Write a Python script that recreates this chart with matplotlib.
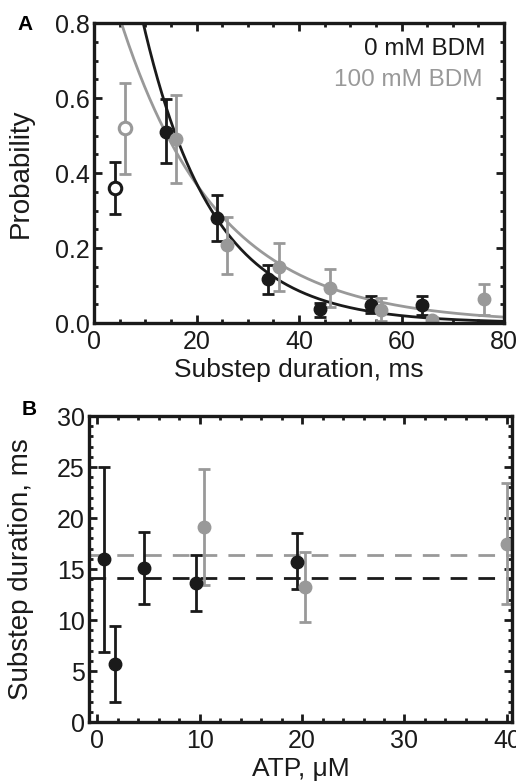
import numpy as np
import matplotlib
matplotlib.use("Agg")
import matplotlib.pyplot as plt
from matplotlib.ticker import MultipleLocator, FormatStrFormatter

plt.rcParams['font.family'] = ['Liberation Sans', 'DejaVu Sans']

BLACK = "#1a1a1a"
GRAY = "#999999"

# panel A: substep duration histograms (0 mM BDM black, 100 mM BDM gray)
a_black_x = [4, 14, 24, 34, 44, 54, 64]
a_black_y = [0.36, 0.51, 0.28, 0.117, 0.037, 0.048, 0.048]
a_black_lo = [0.29, 0.427, 0.219, 0.077, 0.016, 0.027, 0.021]
a_black_hi = [0.43, 0.597, 0.341, 0.155, 0.053, 0.072, 0.072]

a_gray_x = [6, 16, 26, 36, 46, 56, 66, 76]
a_gray_y = [0.52, 0.49, 0.208, 0.149, 0.093, 0.035, 0.008, 0.064]
a_gray_lo = [0.397, 0.373, 0.131, 0.085, 0.043, 0.005, 0.0, 0.021]
a_gray_hi = [0.64, 0.608, 0.283, 0.213, 0.144, 0.067, 0.016, 0.104]

# exponential fits (amplitude, time constant in ms)
fit_black = (1.62, 13.6)
fit_gray = (1.06, 19.0)

# panel B: substep duration vs ATP
b_black_x = [0.7, 1.7, 4.6, 9.6, 19.5]
b_black_y = [16.0, 5.7, 15.1, 13.6, 15.7]
b_black_lo = [6.9, 2.0, 11.6, 10.9, 13.0]
b_black_hi = [25.0, 9.4, 18.6, 16.4, 18.5]

b_gray_x = [10.4, 20.3, 40.0]
b_gray_y = [19.1, 13.2, 17.5]
b_gray_lo = [13.4, 9.8, 11.6]
b_gray_hi = [24.8, 16.7, 23.4]

mean_black = 14.1
mean_gray = 16.4


def yerr(y, lo, hi):
    y = np.array(y)
    return [y - np.array(lo), np.array(hi) - y]


def style_axes(ax):
    for s in ax.spines.values():
        s.set_linewidth(2.4)
        s.set_color(BLACK)
    ax.tick_params(which="both", direction="in", top=True, right=True,
                   width=2.0, colors=BLACK, labelsize=18)
    ax.tick_params(axis="x", pad=5)
    ax.tick_params(axis="y", pad=3)
    ax.tick_params(which="major", length=6)
    ax.tick_params(which="minor", length=3)


fig = plt.figure(figsize=(5.16, 7.81), dpi=100)

# ---- panel A
ax = fig.add_axes([0.1822, 0.5864, 0.7946, 0.3841])
xs = np.linspace(0, 80, 400)
ax.plot(xs, fit_gray[0] * np.exp(-xs / fit_gray[1]), color=GRAY, lw=2)
ax.plot(xs, fit_black[0] * np.exp(-xs / fit_black[1]), color=BLACK, lw=2)

ekw = dict(fmt="none", elinewidth=2, capsize=4.5, capthick=2)
ax.errorbar(a_black_x, a_black_y, yerr=yerr(a_black_y, a_black_lo, a_black_hi), ecolor=BLACK, **ekw)
ax.errorbar(a_gray_x, a_gray_y, yerr=yerr(a_gray_y, a_gray_lo, a_gray_hi), ecolor=GRAY, **ekw)
# first bins drawn as open circles
ax.plot(a_black_x[:1], a_black_y[:1], "o", ms=9, mfc="white", mec=BLACK, mew=2.2)
ax.plot(a_gray_x[:1], a_gray_y[:1], "o", ms=9, mfc="white", mec=GRAY, mew=2.2)
ax.plot(a_black_x[1:], a_black_y[1:], "o", ms=9, color=BLACK)
ax.plot(a_gray_x[1:], a_gray_y[1:], "o", ms=9, color=GRAY)

ax.set_xlim(0, 80)
ax.set_ylim(0, 0.8)
ax.xaxis.set_major_locator(MultipleLocator(20))
ax.xaxis.set_minor_locator(MultipleLocator(5))
ax.yaxis.set_major_locator(MultipleLocator(0.2))
ax.yaxis.set_minor_locator(MultipleLocator(0.05))
ax.yaxis.set_major_formatter(FormatStrFormatter("%.1f"))
style_axes(ax)
ax.set_xlabel("Substep duration, ms", fontsize=19, color=BLACK)
ax.set_ylabel("Probability", fontsize=20, color=BLACK)
ax.xaxis.set_label_coords(0.5, -0.115)
ax.yaxis.set_label_coords(-0.147, 0.5)
ax.text(0.955, 0.915, "0 mM BDM", transform=ax.transAxes, ha="right", va="center",
        fontsize=17.5, color=BLACK)
ax.text(0.948, 0.81, "100 mM BDM", transform=ax.transAxes, ha="right", va="center",
        fontsize=17.5, color=GRAY)
fig.text(17 / 516, 1 - 25 / 781, "A", fontsize=15, fontweight="bold", ha="left", va="center")

# ---- panel B
bx = fig.add_axes([0.1725, 0.0755, 0.8198, 0.3918])
bx.axhline(mean_gray, color=GRAY, lw=2, dashes=(6, 4))
bx.axhline(mean_black, color=BLACK, lw=2, dashes=(6, 4))
ekw2 = dict(fmt="o", ms=9, elinewidth=2, capsize=4.5, capthick=2)
bx.errorbar(b_black_x, b_black_y, yerr=yerr(b_black_y, b_black_lo, b_black_hi),
            color=BLACK, ecolor=BLACK, **ekw2)
bx.errorbar(b_gray_x, b_gray_y, yerr=yerr(b_gray_y, b_gray_lo, b_gray_hi),
            color=GRAY, ecolor=GRAY, **ekw2)
bx.set_xlim(-0.8, 40.5)
bx.set_ylim(0, 30)
bx.xaxis.set_major_locator(MultipleLocator(10))
bx.xaxis.set_minor_locator(MultipleLocator(2))
bx.yaxis.set_major_locator(MultipleLocator(5))
bx.yaxis.set_minor_locator(MultipleLocator(1))
style_axes(bx)
bx.set_xlabel("ATP, \u03bcM", fontsize=19, color=BLACK)
bx.set_ylabel("Substep duration, ms", fontsize=20, color=BLACK)
bx.xaxis.set_label_coords(0.5, -0.115)
bx.yaxis.set_label_coords(-0.13, 0.5)
fig.text(22 / 516, 1 - 410 / 781, "B", fontsize=15, fontweight="bold", ha="left", va="center")

fig.savefig("out.png", dpi=100)
